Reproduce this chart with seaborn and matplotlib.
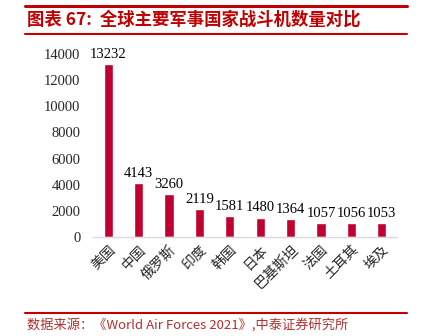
import matplotlib
matplotlib.use("Agg")
import matplotlib.pyplot as plt
import seaborn as sns
import pandas as pd
from matplotlib.lines import Line2D

categories = ["美国", "中国", "俄罗斯", "印度", "韩国", "日本", "巴基斯坦", "法国", "土耳其", "埃及"]
values = [13232, 4143, 3260, 2119, 1581, 1480, 1364, 1057, 1056, 1053]
yticks = [0, 2000, 4000, 6000, 8000, 10000, 12000, 14000]

sns.set_theme(style="white")
plt.rcParams['font.family'] = ['Noto Sans CJK SC', 'DejaVu Sans']

df = pd.DataFrame({"country": categories, "count": values})

fig = plt.figure(figsize=(4.29, 3.36), dpi=100)
ax = fig.add_axes([93/429, 1 - 237/336, (397 - 93)/429, (237 - 54)/336])

sns.barplot(data=df, x="country", y="count", color="#C00030", width=0.3,
            saturation=1, ax=ax)

ax.set_ylim(0, 14000)
ax.set_xlim(-0.5, len(categories) - 0.5)
ax.set_yticks(yticks)
ax.set_yticklabels([str(t) for t in yticks], fontfamily="Liberation Serif", fontsize=10.5)
ax.set_xticks(range(len(categories)))
ax.set_xticklabels(categories, rotation=45, ha="right", rotation_mode="anchor",
                   fontsize=10, fontfamily=["Noto Sans CJK SC", "DejaVu Sans"])
ax.tick_params(axis="both", length=0)
ax.tick_params(axis="x", pad=4)
ax.tick_params(axis="y", pad=9)
ax.set_xlabel("")
ax.set_ylabel("")
for s in ["top", "right", "left"]:
    ax.spines[s].set_visible(False)
ax.spines["bottom"].set_color("#D9D9D9")
ax.spines["bottom"].set_linewidth(1.0)

for i, v in enumerate(values):
    ax.text(i, v + 250, str(v), ha="center", va="bottom", fontsize=10.5,
            fontfamily="Liberation Serif", color="black")

red = "#C00000"
fig.add_artist(Line2D([25/429, 407/429], [1 - 6/336, 1 - 6/336], color=red, lw=2.2,
                      transform=fig.transFigure))
fig.add_artist(Line2D([25/429, 407/429], [1 - 34/336, 1 - 34/336], color=red, lw=1.5,
                      transform=fig.transFigure))
fig.add_artist(Line2D([25/429, 407/429], [1 - 313/336, 1 - 313/336], color=red, lw=1.5,
                      transform=fig.transFigure))

fig.text(27/429, 1 - 20/336, "图表 67:  全球主要军事国家战斗机数量对比", color=red,
         fontsize=12.5, fontweight="bold", style="italic", va="center", ha="left",
         fontfamily=["Noto Sans CJK SC", "DejaVu Sans"])
fig.text(27/429, 1 - 325/336, "数据来源：《World Air Forces 2021》,中泰证券研究所",
         color="#B03030", fontsize=9.5, va="center", ha="left",
         fontfamily=["Noto Sans CJK SC", "DejaVu Sans"])

fig.savefig("out.png", dpi=100)
